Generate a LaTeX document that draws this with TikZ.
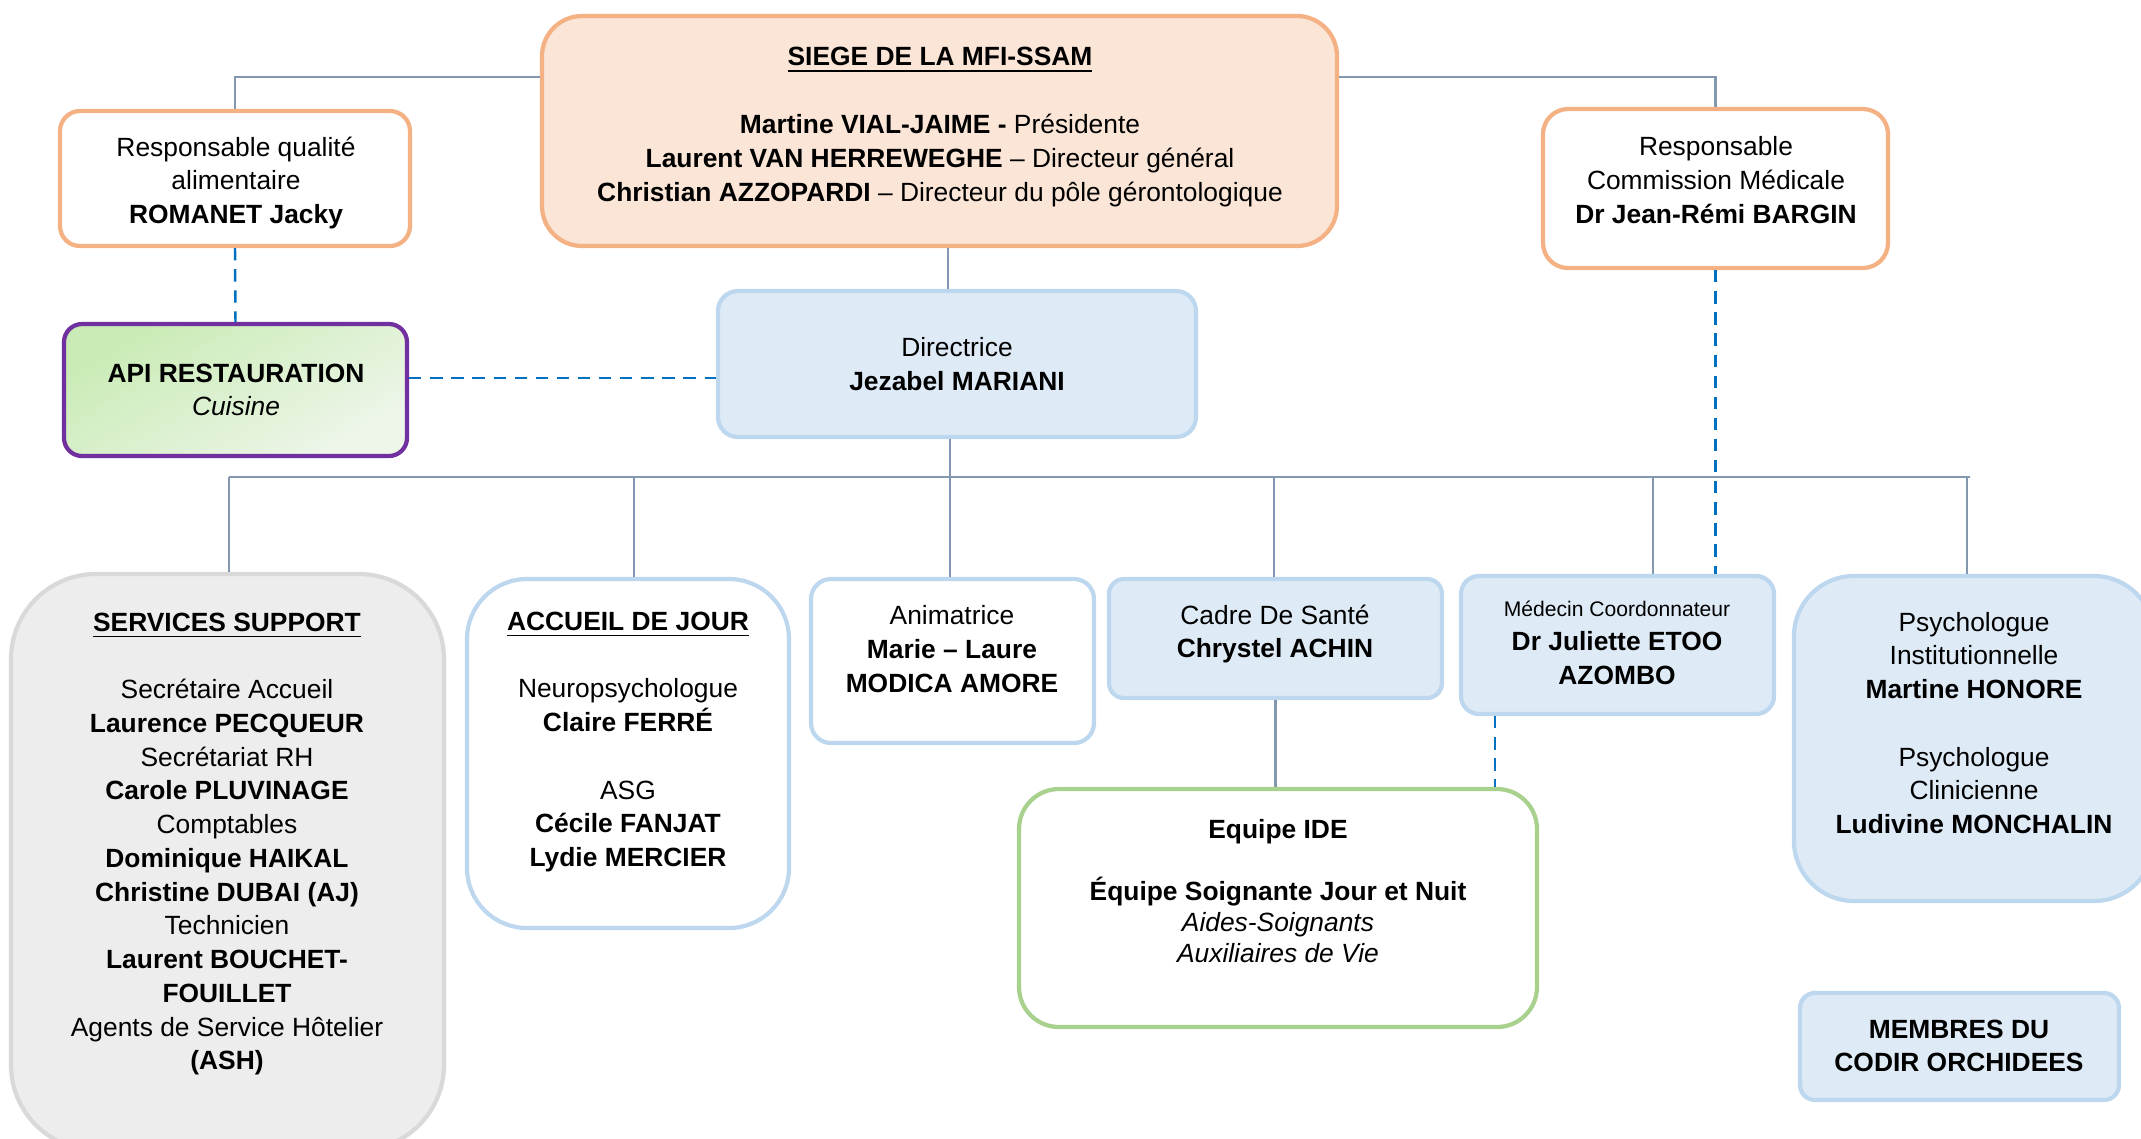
\documentclass[tikz,border=0pt]{standalone}
\usepackage{fontspec}
\setmainfont{Liberation Sans}
\usetikzlibrary{fit}
\definecolor{orgline}{HTML}{F4B183}
\definecolor{orgfill}{HTML}{FBE5D6}
\definecolor{blueline}{HTML}{BDD7EE}
\definecolor{bluefill}{HTML}{DEEBF7}
\definecolor{grayline}{HTML}{D9D9D9}
\definecolor{grayfill}{HTML}{EDEDED}
\definecolor{greenline}{HTML}{A9D18E}
\definecolor{apiline}{HTML}{7030A0}
\definecolor{apiA}{HTML}{C9EBB5}
\definecolor{apiB}{HTML}{EEF6EA}
\definecolor{linkgray}{HTML}{8497B0}
\definecolor{dashblue}{HTML}{0070C0}
\begin{document}
\begin{tikzpicture}[x=0.01cm,y=-0.01cm,
  every node/.style={font=\fontsize{7.5}{9.6}\selectfont, align=center, inner sep=0pt},
  box/.style={line width=1.2pt, inner sep=0pt, rounded corners=0.2cm},
  orgbox/.style={box, draw=orgline, fill=white},
  bluebox/.style={box, draw=blueline, fill=bluefill},
  whitebox/.style={box, draw=blueline, fill=white},
  link/.style={draw=linkgray, line width=0.7pt},
  dotlink/.style={draw=dashblue, line width=0.7pt, dash pattern=on 3.5pt off 2.5pt}]
\clip (0,0) rectangle (2141,1138);
% boxes
\node[box, draw=orgline, fill=orgfill, rounded corners=0.4cm, fit={(542,16) (1337,246)}] (siege) {};
\node[orgbox, fit={(60,111) (410,246)}] (qualite) {};
\node[orgbox, rounded corners=0.25cm, fit={(1543,109) (1888,268)}] (comm) {};
\node[box, draw=apiline, top color=apiA, bottom color=apiB, shading angle=30, rounded corners=0.18cm, fit={(64,324) (407,456)}] (api) {};
\node[bluebox, fit={(718,291) (1196,437)}] (direc) {};
\node[box, draw=grayline, fill=grayfill, rounded corners=0.85cm, fit={(11,574) (444,1150)}] (support) {};
\node[whitebox, rounded corners=0.6cm, fit={(467,579) (789,928)}] (accueil) {};
\node[whitebox, fit={(811,579) (1094,743)}] (anim) {};
\node[bluebox, rounded corners=0.15cm, fit={(1109,579) (1442,698)}] (cadre) {};
\node[bluebox, rounded corners=0.18cm, fit={(1461,576) (1774,714)}] (medecin) {};
\node[bluebox, rounded corners=0.6cm, fit={(1794,576) (2154,901)}] (psy) {};
\node[box, draw=greenline, fill=white, rounded corners=0.4cm, fit={(1019,789) (1537,1027)}] (equipe) {};
\node[bluebox, rounded corners=0.15cm, fit={(1800,993) (2119,1100)}] (membres) {};
% texts
\node (siegetxt) at (940,127) {\underline{\textbf{SIEGE DE LA MFI-SSAM}}\\[9.6pt]
  \textbf{Martine VIAL-JAIME -} Présidente\\
  \textbf{Laurent VAN HERREWEGHE} – Directeur général\\
  \textbf{Christian AZZOPARDI} – Directeur du pôle gérontologique};
\node (qualitetxt) at (236,183) {Responsable qualité\\ alimentaire\\ \textbf{ROMANET Jacky}};
\node (commtxt) at (1716,180) {Responsable\\ Commission Médicale\\ \textbf{Dr Jean-Rémi BARGIN}};
\node (apitxt) at (236,390) {\textbf{API RESTAURATION}\\ \textit{Cuisine}};
\node (directxt) at (957,364) {Directrice\\ \textbf{Jezabel MARIANI}};
\node (supporttxt) at (227,844) {\underline{\textbf{SERVICES SUPPORT}}\\[9.6pt]
  Secrétaire Accueil\\ \textbf{Laurence PECQUEUR}\\ Secrétariat RH\\ \textbf{Carole PLUVINAGE}\\
  Comptables\\ \textbf{Dominique HAIKAL}\\ \textbf{Christine DUBAI (AJ)}\\ Technicien\\
  \textbf{Laurent BOUCHET-}\\ \textbf{FOUILLET}\\ Agents de Service Hôtelier\\ \textbf{(ASH)}};
\node (accueiltxt) at (628,742) {\underline{\textbf{ACCUEIL DE JOUR}}\\[9.6pt]
  Neuropsychologue\\ \textbf{Claire FERRÉ}\\[9.6pt] ASG\\ \textbf{Cécile FANJAT}\\ \textbf{Lydie MERCIER}};
\node (animtxt) at (952,649) {Animatrice\\ \textbf{Marie – Laure}\\ \textbf{MODICA AMORE}};
\node (cadretxt) at (1275,634) {Cadre De Santé\\ \textbf{Chrystel ACHIN}};
\node (medecintxt) at (1617,643) {{\fontsize{6}{8}\selectfont Médecin Coordonnateur}\\ \textbf{Dr Juliette ETOO}\\ \textbf{AZOMBO}};
\node (psytxt) at (1974,723) {Psychologue\\ Institutionnelle\\ \textbf{Martine HONORE}\\[9.6pt]
  Psychologue\\ Clinicienne\\ \textbf{Ludivine MONCHALIN}};
\node[font=\fontsize{7.5}{8.8}\selectfont] (equipetxt) at (1278,891) {\textbf{Equipe IDE}\\[8.8pt]
  \textbf{Équipe Soignante Jour et Nuit}\\ \textit{Aides-Soignants}\\ \textit{Auxiliaires de Vie}};
\node (membrestxt) at (1959,1046) {\textbf{MEMBRES DU}\\ \textbf{CODIR ORCHIDEES}};
% connectors
\coordinate (top) at (940,77);
\coordinate (bus) at (950,477);
\draw[link] (top -| siege.west) -- (top -| qualite.north) -- (qualite.north);
\draw[link] (top -| siege.east) -- (top -| comm.north) -- (comm.north);
\draw[link] (siege.south -| 948,0) -- (direc.north -| 948,0);
\draw[link] (direc.south -| 950,0) -- (bus);
\draw[link] (bus -| 229,0) -- (bus -| 1970,0);
\foreach \n/\x in {support/229, accueil/634, anim/950, cadre/1274, medecin/1653, psy/1967}
  \draw[link] (bus -| \x,0) -- (\n.north -| \x,0);
\draw[link] (cadre.south) -- (cadre.south |- equipe.north);
\draw[dotlink] (qualite.south) -- (api.north);
\draw[dotlink] (api.east |- 0,378) -- (direc.west |- 0,378);
\draw[dotlink] (comm.south) -- (comm.south |- medecin.north);
\draw[dotlink] (medecin.south -| 1495,0) -- (equipe.north -| 1495,0);
\end{tikzpicture}
\end{document}
